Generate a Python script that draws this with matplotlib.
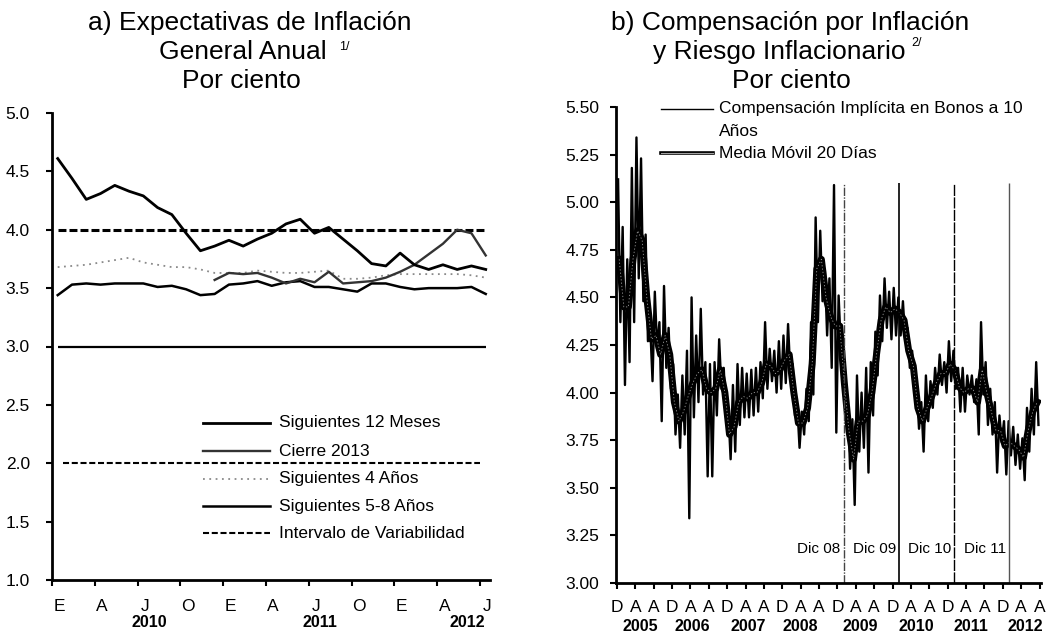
import matplotlib
matplotlib.use('Agg')
import matplotlib.pyplot as plt
from matplotlib.lines import Line2D
from matplotlib.transforms import blended_transform_factory
import numpy as np

plt.rcParams['font.family'] = ['Liberation Sans', 'DejaVu Sans']

W, H = 1056, 637

# ---------------- panel a) data: monthly, Jan 2010 .. Jul 2012 ----------------
month_letters = ['E', 'A', 'J', 'O', 'E', 'A', 'J', 'O', 'E', 'A', 'J']
years_a = ['2010', '2011', '2012']

sig_12m = [4.61, 4.44, 4.26, 4.31, 4.38, 4.33, 4.29, 4.19, 4.13, 3.97, 3.82,
           3.86, 3.91, 3.86, 3.92, 3.97, 4.05, 4.09, 3.97, 4.02, 3.92, 3.82,
           3.71, 3.69, 3.80, 3.70, 3.66, 3.70, 3.66, 3.69, 3.66]
cierre_2013 = [np.nan] * 11 + [3.57, 3.63, 3.62, 3.63, 3.59, 3.54, 3.58, 3.55,
                               3.64, 3.54, 3.55, 3.56, 3.59, 3.64, 3.70, 3.79,
                               3.88, 4.00, 3.97, 3.78]
sig_4a = [3.68, 3.69, 3.70, 3.72, 3.74, 3.76, 3.72, 3.70, 3.68, 3.68, 3.66,
          3.63, 3.63, 3.63, 3.65, 3.64, 3.63, 3.63, 3.64, 3.65, 3.58, 3.58,
          3.59, 3.61, 3.62, 3.62, 3.62, 3.62, 3.62, 3.61, 3.59]
sig_5_8a = [3.44, 3.53, 3.54, 3.53, 3.54, 3.54, 3.54, 3.51, 3.52, 3.49, 3.44,
            3.45, 3.53, 3.54, 3.56, 3.52, 3.55, 3.56, 3.51, 3.51, 3.49, 3.47,
            3.54, 3.54, 3.51, 3.49, 3.50, 3.50, 3.50, 3.51, 3.45]
meta = 3.0
banda_sup = 4.0
banda_inf = 2.0

# ---------------- panel b) data: monthly high / low / 20-day average ----------
# months counted from Dec 2004
comp_hi = [5.12, 4.87, 4.70, 5.18, 5.34, 5.23, 4.83, 4.35, 4.53, 4.37,
           4.56, 4.34, 4.15, 3.99, 4.09, 4.22, 4.50, 4.30, 4.44, 4.16,
           4.15, 4.16, 4.28, 4.13, 3.90, 4.04, 4.15, 4.13, 4.10, 4.12,
           4.13, 4.16, 4.37, 4.23, 4.22, 4.27, 4.30, 4.36, 4.15, 3.93,
           3.90, 4.02, 4.37, 4.92, 4.85, 4.65, 4.60, 5.09, 4.51, 4.23,
           3.95, 3.86, 4.09, 4.00, 4.13, 4.16, 4.32, 4.51, 4.60, 4.53,
           4.55, 4.50, 4.48, 4.34, 4.22, 4.02, 3.95, 4.09, 4.06, 4.13,
           4.20, 4.16, 4.27, 4.22, 4.13, 4.13, 4.09, 4.09, 4.07, 4.37,
           4.16, 4.02, 3.95, 3.88, 3.85, 3.85, 3.82, 3.78, 3.76, 3.92,
           4.02, 4.16]
comp_lo = [4.37, 4.04, 4.16, 4.37, 4.60, 4.48, 4.27, 4.06, 4.23, 3.85,
           4.13, 4.02, 3.78, 3.71, 3.78, 3.34, 3.87, 3.95, 3.99, 3.56,
           3.56, 3.88, 4.02, 3.87, 3.65, 3.69, 3.83, 3.87, 3.87, 3.88,
           3.90, 3.97, 4.02, 4.06, 4.00, 4.02, 4.05, 4.09, 3.88, 3.71,
           3.78, 3.85, 3.99, 4.37, 4.48, 4.30, 4.13, 3.79, 4.23, 3.90,
           3.60, 3.41, 3.69, 3.71, 3.58, 3.88, 4.09, 4.27, 4.34, 4.28,
           4.30, 4.30, 4.27, 4.13, 4.07, 3.81, 3.69, 3.85, 3.92, 3.99,
           4.04, 4.00, 4.06, 4.02, 3.90, 3.90, 3.99, 3.95, 3.78, 3.99,
           3.83, 3.78, 3.58, 3.74, 3.57, 3.67, 3.62, 3.60, 3.54, 3.69,
           3.78, 3.83]
media_movil = [4.70, 4.45, 4.45, 4.70, 4.85, 4.80, 4.50, 4.28, 4.30, 4.20,
               4.30, 4.20, 3.95, 3.85, 3.90, 3.98, 4.05, 4.10, 4.12, 4.02,
               4.00, 4.02, 4.12, 4.00, 3.78, 3.82, 3.95, 3.98, 3.97, 4.00,
               4.00, 4.05, 4.15, 4.14, 4.10, 4.12, 4.17, 4.20, 4.00, 3.84,
               3.84, 3.92, 4.15, 4.65, 4.70, 4.50, 4.40, 4.35, 4.35, 4.05,
               3.80, 3.65, 3.85, 3.85, 3.88, 4.00, 4.20, 4.38, 4.45, 4.42,
               4.44, 4.42, 4.38, 4.22, 4.14, 3.92, 3.85, 3.92, 3.98, 4.05,
               4.10, 4.10, 4.15, 4.12, 4.03, 4.00, 4.02, 4.02, 3.95, 4.12,
               4.00, 3.90, 3.80, 3.80, 3.72, 3.74, 3.72, 3.70, 3.66, 3.80,
               3.90, 3.95]
tick_letters_b = ['D', 'A', 'A'] * 8
years_b = ['2005', '2006', '2007', '2008', '2009', '2010', '2011', '2012']
dic_labels = ['Dic 08', 'Dic 09', 'Dic 10', 'Dic 11']
dic_pos = [49.4, 61.4, 73.4, 85.4]

fig = plt.figure(figsize=(W / 100, H / 100), dpi=100)


def fx(px):
    return px / W


def fy(py):
    return 1 - py / H


def title(lines, cx, sup, sup_x, sup_y):
    for txt, c, base in zip(lines, cx, [30, 59, 88]):
        fig.text(fx(c), fy(base), txt, ha='center', va='baseline', fontsize=19)
    fig.text(fx(sup_x), fy(sup_y), sup, fontsize=9, va='baseline')


def style_axis(ax):
    ax.spines[['top', 'right']].set_visible(False)
    for s in ['left', 'bottom']:
        ax.spines[s].set_linewidth(2)
    ax.tick_params(axis='both', which='major', direction='out', width=1.5,
                   length=4, labelsize=12.5, pad=6)


# ---------------- panel a ----------------
title(['a) Expectativas de Inflación', 'General Anual', 'Por ciento'],
      [250, 243, 241], '1/', 339, 50)

ax1 = fig.add_axes([fx(52), fy(580), fx(490 - 52), (580 - 113) / H])
x = np.arange(len(sig_12m))

s12 = dict(color='black', lw=2.0)
s13 = dict(color='#333333', lw=1.7)
s4 = dict(color='#8a8a8a', lw=1.3, linestyle=(0, (1, 2.5)))
s58 = dict(color='black', lw=1.8)
sint = dict(color='black', lw=1.5, linestyle=(0, (2.9, 1.3)))

ax1.hlines(meta, x[0], x[-1], color='black', lw=1.6)
ax1.hlines(banda_sup, x[0], x[-1], color='black', lw=2.2,
           linestyle=(0, (2.6, 1.0)))
ax1.hlines(banda_inf, x[0] + 0.4, x[-1] - 0.4, **sint)
ax1.plot(x, sig_4a, **s4)
ax1.plot(x, sig_5_8a, **s58)
ax1.plot(x, cierre_2013, **s13)
ax1.plot(x, sig_12m, **s12)

ax1.set_xlim(-0.35, 30.3)
ax1.set_ylim(1.0, 5.0)
ax1.set_yticks(np.arange(1.0, 5.01, 0.5))
ax1.set_yticklabels([f'{v:.1f}' for v in np.arange(1.0, 5.01, 0.5)])
style_axis(ax1)
ax1.tick_params(axis='y', pad=12)
ax1.set_xticks(np.arange(0, 31, 3) - 0.4)
ax1.set_xticklabels([])
ax1.set_xticks(np.arange(0, 31, 3) + 0.1, minor=True)
ax1.set_xticklabels(month_letters, minor=True)
ax1.tick_params(axis='x', which='minor', length=0, labelsize=12.5, pad=14)
tr1 = blended_transform_factory(ax1.transData, ax1.transAxes)
for yr, xp in zip(years_a, [6.4, 18.4, 28.7]):
    ax1.text(xp, -0.092, yr, transform=tr1, ha='center', va='center',
             fontsize=11.5, fontweight='bold')

leg_a = [('Siguientes 12 Meses', s12), ('Cierre 2013', s13),
         ('Siguientes 4 Años', s4), ('Siguientes 5-8 Años', s58),
         ('Intervalo de Variabilidad', sint)]
for (lab, st), yy in zip(leg_a, [423, 451, 479, 506, 533]):
    fig.add_artist(Line2D([fx(203), fx(270)], [fy(yy), fy(yy)], **st))
    fig.text(fx(279), fy(yy), lab, ha='left', va='center', fontsize=12.5)

# ---------------- panel b ----------------
title(['b) Compensación por Inflación', 'y Riesgo Inflacionario', 'Por ciento'],
      [790, 779, 791], '2/', 911, 46)

ax2 = fig.add_axes([fx(616), fy(583), fx(1041 - 616), (583 - 107) / H])
m = np.arange(len(comp_hi))
zx = np.column_stack([m + 0.25, m + 0.75]).ravel()
zy = np.column_stack([comp_hi, comp_lo]).ravel()
ax2.plot(zx, zy, color='black', lw=1.7)
ax2.plot(m + 0.5, media_movil, color='black', lw=5, solid_joinstyle='round')
ax2.plot(m + 0.5, media_movil, color='#9a9a9a', lw=0.6,
         linestyle=(0, (1.5, 2.5)))

dic_styles = [dict(color='#444444', lw=1.0, linestyle=(0, (6, 1, 1, 1))),
              dict(color='black', lw=1.2),
              dict(color='black', lw=1.0, linestyle=(0, (8, 1))),
              dict(color='#555555', lw=1.0)]
for lab, xp, st in zip(dic_labels, dic_pos, dic_styles):
    ax2.vlines(xp, 3.0, 5.1, **st)
    ax2.text(xp - 0.7, 3.18, lab, ha='right', va='center', fontsize=11)

ax2.set_xlim(-0.2, 92.3)
ax2.set_ylim(3.0, 5.5)
yt = np.arange(3.0, 5.51, 0.25)
ax2.set_yticks(yt)
ax2.set_yticklabels([f'{v:.2f}' for v in yt])
style_axis(ax2)
ax2.tick_params(axis='y', pad=8)
ax2.set_xticks(np.arange(0, 93, 4))
ax2.set_xticklabels(tick_letters_b)
ax2.tick_params(axis='x', pad=8)
tr2 = blended_transform_factory(ax2.transData, ax2.transAxes)
for yr, xp in zip(years_b, [5.2, 16.5, 28.5, 40.0, 52.9, 65.1, 77.0, 88.8]):
    ax2.text(xp, -0.092, yr, transform=tr2, ha='center', va='center',
             fontsize=11.5, fontweight='bold')

fig.add_artist(Line2D([fx(661), fx(713)], [fy(109), fy(109)], color='black', lw=1.0))
fig.text(fx(719), fy(109), 'Compensación Implícita en Bonos a 10', ha='left',
         va='center', fontsize=12.5)
fig.text(fx(719), fy(132), 'Años', ha='left', va='center', fontsize=12.5)
fig.add_artist(Line2D([fx(661), fx(713)], [fy(153), fy(153)], color='black', lw=2.6))
fig.add_artist(Line2D([fx(661), fx(713)], [fy(153), fy(153)], color='#a0a0a0', lw=0.8))
fig.text(fx(719), fy(153), 'Media Móvil 20 Días', ha='left', va='center',
         fontsize=12.5)

fig.savefig('out.png', dpi=100)
